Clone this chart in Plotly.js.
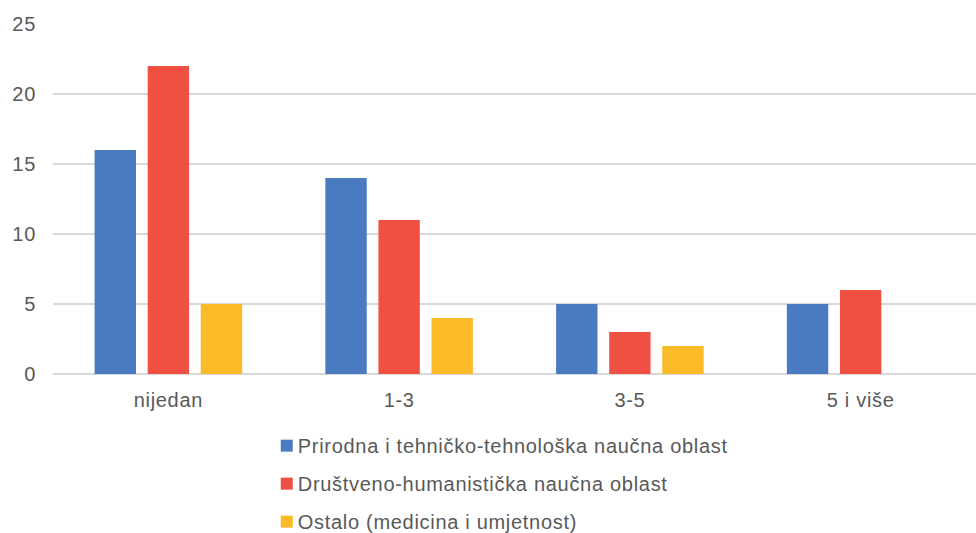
<!DOCTYPE html>
<html>
<head>
<meta charset="utf-8">
<script src="https://cdn.plot.ly/plotly-3.0.1.min.js"></script>
<style>
  html, body { margin: 0; padding: 0; background: #fff; }
  #chart { width: 976px; height: 533px; }
  #chart text { letter-spacing: 0.7px; }
</style>
</head>
<body>
<div id="chart"></div>
<script>
var categories = ['nijedan', '1-3', '3-5', '5 i više'];
var seriesNames = [
    'Prirodna i tehničko-tehnološka naučna oblast',
    'Društveno-humanistička naučna oblast',
    'Ostalo (medicina i umjetnost)'
];
var prirodnaValues = [16, 14, 5, 5];
var drustvenoValues = [22, 11, 3, 6];
var ostaloValues = [5, 4, 2, 0];
var yTicks = [0, 5, 10, 15, 20, 25];

var colors = ['#4a7bc1', '#ef5043', '#fbba27'];
var allValues = [prirodnaValues, drustvenoValues, ostaloValues];

var barData = allValues.map(function (vals, i) {
    return {
        x: categories,
        y: vals,
        name: seriesNames[i],
        type: 'bar',
        legendgroup: 'g' + i,
        marker: { color: colors[i], line: { width: 0 } },
        hoverinfo: 'x+y'
    };
});

var barLayout = {
    width: 976,
    height: 533,
    margin: { l: 53, r: 0, t: 24, b: 159, autoexpand: false },
    paper_bgcolor: '#ffffff',
    plot_bgcolor: '#ffffff',
    font: { family: 'Liberation Sans, Arial, sans-serif', size: 20, color: '#595959' },
    barmode: 'group',
    bargap: 0.31,
    bargroupgap: 0.22,
    showlegend: true,
    legend: {
        orientation: 'v',
        x: 0.2316,
        xanchor: 'left',
        y: -0.149,
        yanchor: 'top',
        traceorder: 'grouped',
        tracegroupgap: 9,
        font: { size: 20, color: '#595959' },
        itemwidth: 30
    },
    xaxis: {
        showgrid: false,
        zeroline: false,
        showline: false,
        ticks: '',
        ticklabelstandoff: 12,
        tickfont: { size: 20, color: '#595959' }
    },
    yaxis: {
        range: [0, 25],
        tickvals: yTicks,
        showgrid: true,
        gridcolor: '#d9d9d9',
        gridwidth: 1.5,
        zeroline: true,
        zerolinecolor: '#d9d9d9',
        zerolinewidth: 1.5,
        ticks: '',
        ticklabelstandoff: 16,
        tickfont: { size: 20, color: '#595959' }
    }
};

Plotly.newPlot('chart', barData, barLayout, { displayModeBar: false }).then(function () {
    // pull legend text closer to the square, as in the original
    document.querySelectorAll('#chart .legendtext').forEach(function (t) {
        t.setAttribute('x', 31);
    });
    // letter-spacing makes the text wider than plotly measured, so drop the clip
    var box = document.querySelector('#chart .legend .scrollbox');
    if (box) box.removeAttribute('clip-path');
    var bg = document.querySelector('#chart .legend .bg');
    if (bg) bg.style.display = 'none';
});
</script>
</body>
</html>
